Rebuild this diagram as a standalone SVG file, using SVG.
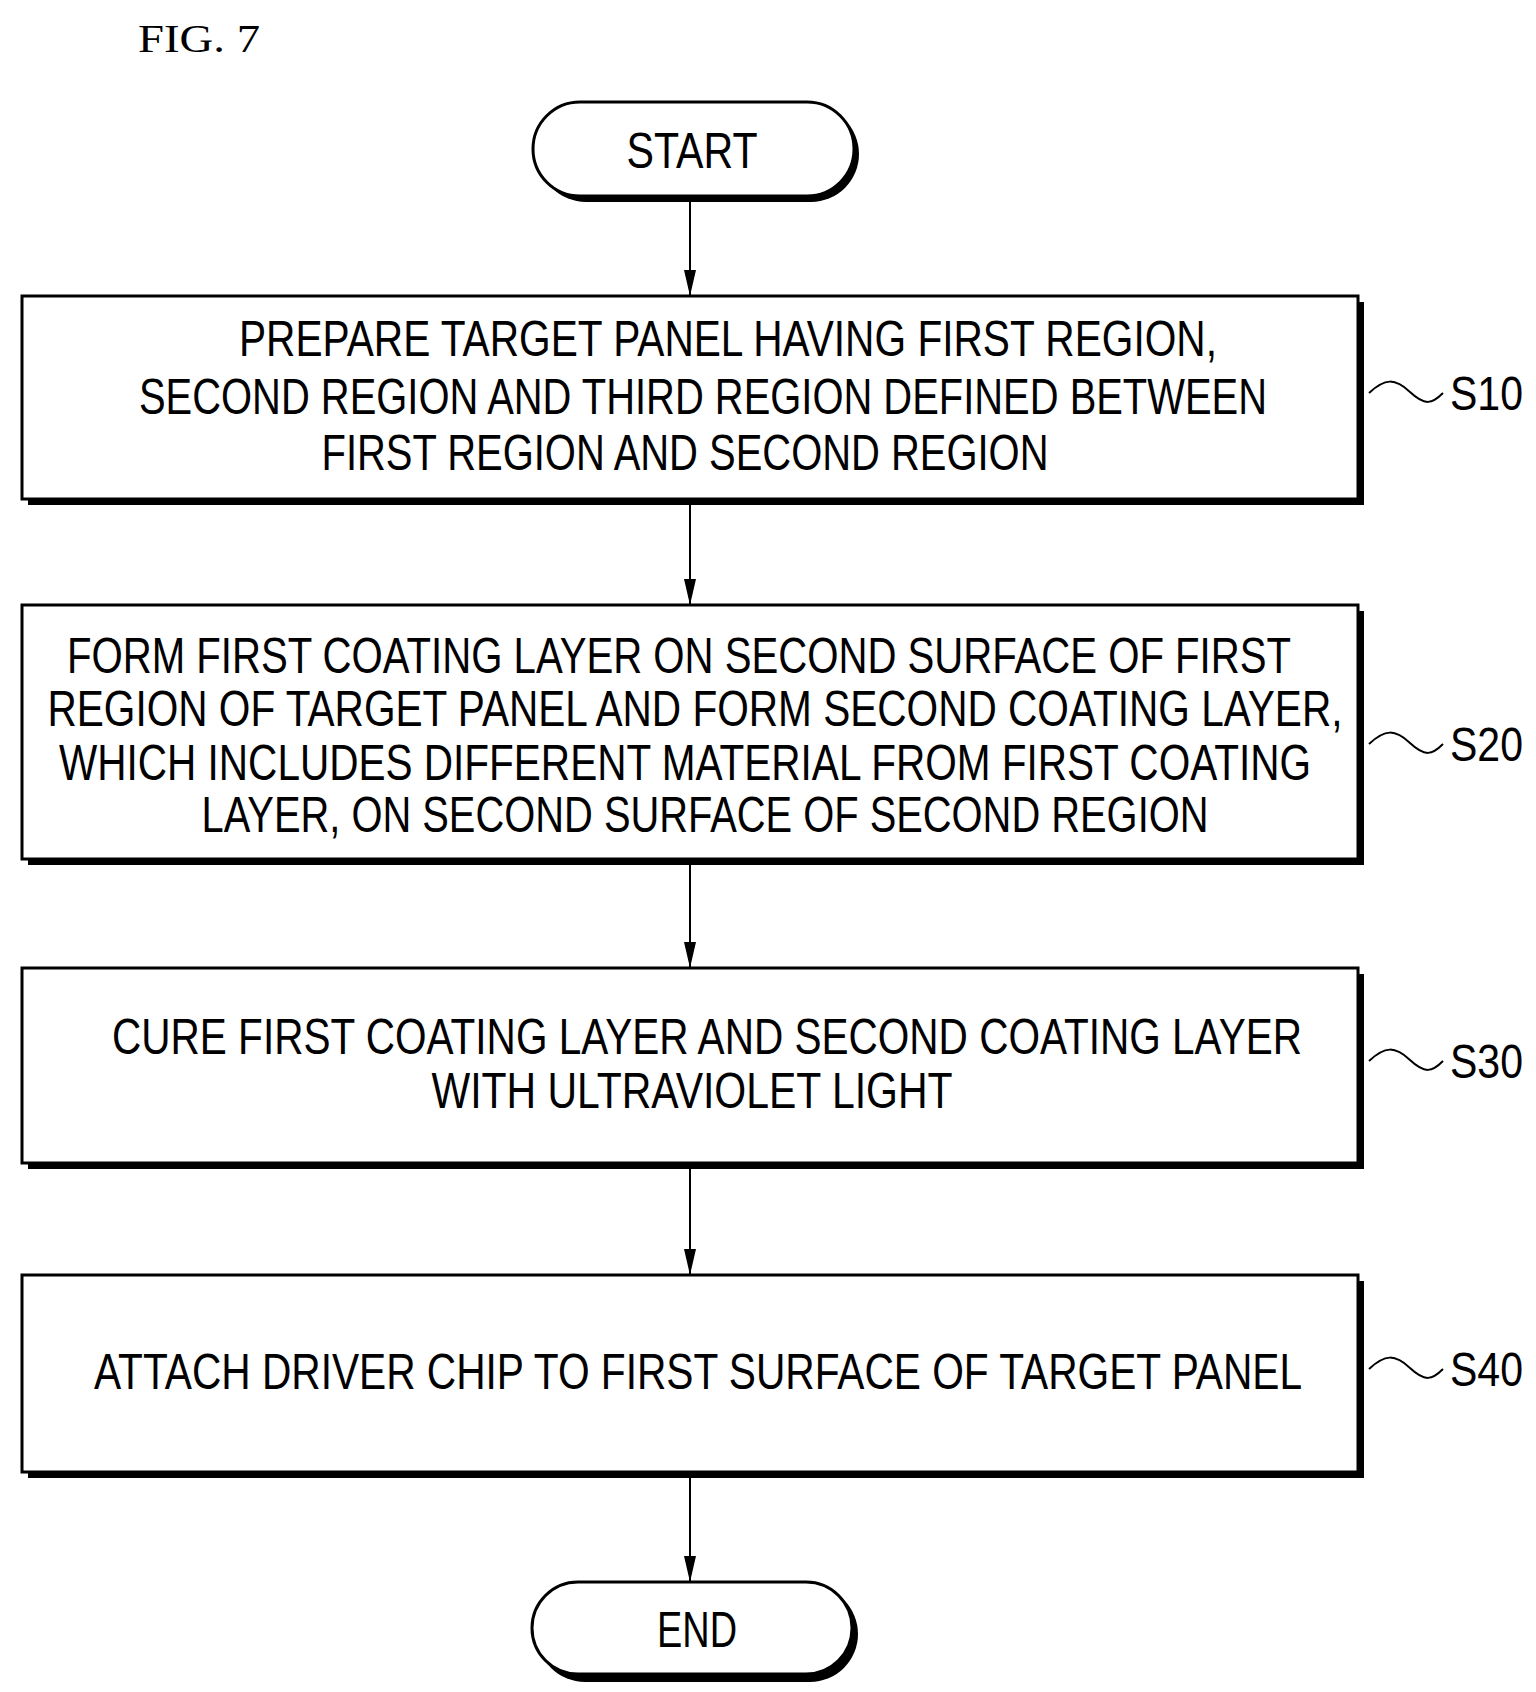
<svg xmlns="http://www.w3.org/2000/svg" width="1536" height="1692" viewBox="0 0 1536 1692">
<defs>
<style>
.t{font-family:"Liberation Sans",Arial,sans-serif;font-size:50px;fill:#000;text-anchor:middle}
.sh{fill:#000}
.bx{fill:#fff;stroke:#000;stroke-width:3}
.c{stroke:#000;stroke-width:2;fill:none}
.lb{font-family:"Liberation Sans",Arial,sans-serif;font-size:48px;fill:#000}
</style>
</defs>
<rect width="1536" height="1692" fill="#fff"/>
<text x="138" y="52" font-family="Liberation Serif,serif" font-size="40" textLength="122" lengthAdjust="spacingAndGlyphs">FIG. 7</text>
<g id="connectors">
<line class="c" x1="690" y1="198" x2="690" y2="296"/>
<path d="M684,270 L696,270 L690,296 Z"/>
<line class="c" x1="690" y1="505" x2="690" y2="605"/>
<path d="M684,579 L696,579 L690,605 Z"/>
<line class="c" x1="690" y1="865" x2="690" y2="968"/>
<path d="M684,942 L696,942 L690,968 Z"/>
<line class="c" x1="690" y1="1169" x2="690" y2="1275"/>
<path d="M684,1249 L696,1249 L690,1275 Z"/>
<line class="c" x1="690" y1="1478" x2="690" y2="1582"/>
<path d="M684,1556 L696,1556 L690,1582 Z"/>
</g>
<g id="start">
<rect class="sh" x="538" y="106" width="321" height="96" rx="48"/>
<rect class="bx" x="533" y="102" width="321" height="94" rx="47"/>
<text class="t" x="692" y="168" textLength="131" lengthAdjust="spacingAndGlyphs">START</text>
</g>
<g id="s10">
<rect class="sh" x="28" y="302" width="1336" height="203"/>
<rect class="bx" x="22" y="296" width="1336" height="203"/>
<text class="t" x="728" y="356" textLength="978" lengthAdjust="spacingAndGlyphs">PREPARE TARGET PANEL HAVING FIRST REGION,</text>
<text class="t" x="703" y="414" textLength="1128" lengthAdjust="spacingAndGlyphs">SECOND REGION AND THIRD REGION DEFINED BETWEEN</text>
<text class="t" x="685" y="470" textLength="727" lengthAdjust="spacingAndGlyphs">FIRST REGION AND SECOND REGION</text>
<path class="c" d="M1369,393 C1385,378 1395,378 1410,392 S1432,404 1443,393"/>
<text class="lb" x="1450" y="410" textLength="73" lengthAdjust="spacingAndGlyphs">S10</text>
</g>
<g id="s20">
<rect class="sh" x="28" y="611" width="1336" height="254"/>
<rect class="bx" x="22" y="605" width="1336" height="254"/>
<text class="t" x="679" y="673" textLength="1224" lengthAdjust="spacingAndGlyphs">FORM FIRST COATING LAYER ON SECOND SURFACE OF FIRST</text>
<text class="t" x="695" y="726" textLength="1295" lengthAdjust="spacingAndGlyphs">REGION OF TARGET PANEL AND FORM SECOND COATING LAYER,</text>
<text class="t" x="685" y="780" textLength="1252" lengthAdjust="spacingAndGlyphs">WHICH INCLUDES DIFFERENT MATERIAL FROM FIRST COATING</text>
<text class="t" x="705" y="832" textLength="1007" lengthAdjust="spacingAndGlyphs">LAYER, ON SECOND SURFACE OF SECOND REGION</text>
<path class="c" d="M1369,744 C1385,729 1395,729 1410,743 S1432,755 1443,744"/>
<text class="lb" x="1450" y="761" textLength="73" lengthAdjust="spacingAndGlyphs">S20</text>
</g>
<g id="s30">
<rect class="sh" x="28" y="974" width="1336" height="195"/>
<rect class="bx" x="22" y="968" width="1336" height="195"/>
<text class="t" x="707" y="1054" textLength="1190" lengthAdjust="spacingAndGlyphs">CURE FIRST COATING LAYER AND SECOND COATING LAYER</text>
<text class="t" x="692" y="1108" textLength="521" lengthAdjust="spacingAndGlyphs">WITH ULTRAVIOLET LIGHT</text>
<path class="c" d="M1369,1061 C1385,1046 1395,1046 1410,1060 S1432,1072 1443,1061"/>
<text class="lb" x="1450" y="1078" textLength="73" lengthAdjust="spacingAndGlyphs">S30</text>
</g>
<g id="s40">
<rect class="sh" x="28" y="1281" width="1336" height="197"/>
<rect class="bx" x="22" y="1275" width="1336" height="197"/>
<text class="t" x="698" y="1389" textLength="1208" lengthAdjust="spacingAndGlyphs">ATTACH DRIVER CHIP TO FIRST SURFACE OF TARGET PANEL</text>
<path class="c" d="M1369,1369 C1385,1354 1395,1354 1410,1368 S1432,1380 1443,1369"/>
<text class="lb" x="1450" y="1386" textLength="73" lengthAdjust="spacingAndGlyphs">S40</text>
</g>
<g id="end">
<rect class="sh" x="537" y="1586" width="321" height="96" rx="48"/>
<rect class="bx" x="532" y="1582" width="320" height="92" rx="46"/>
<text class="t" x="697" y="1647" textLength="80" lengthAdjust="spacingAndGlyphs">END</text>
</g>
</svg>
